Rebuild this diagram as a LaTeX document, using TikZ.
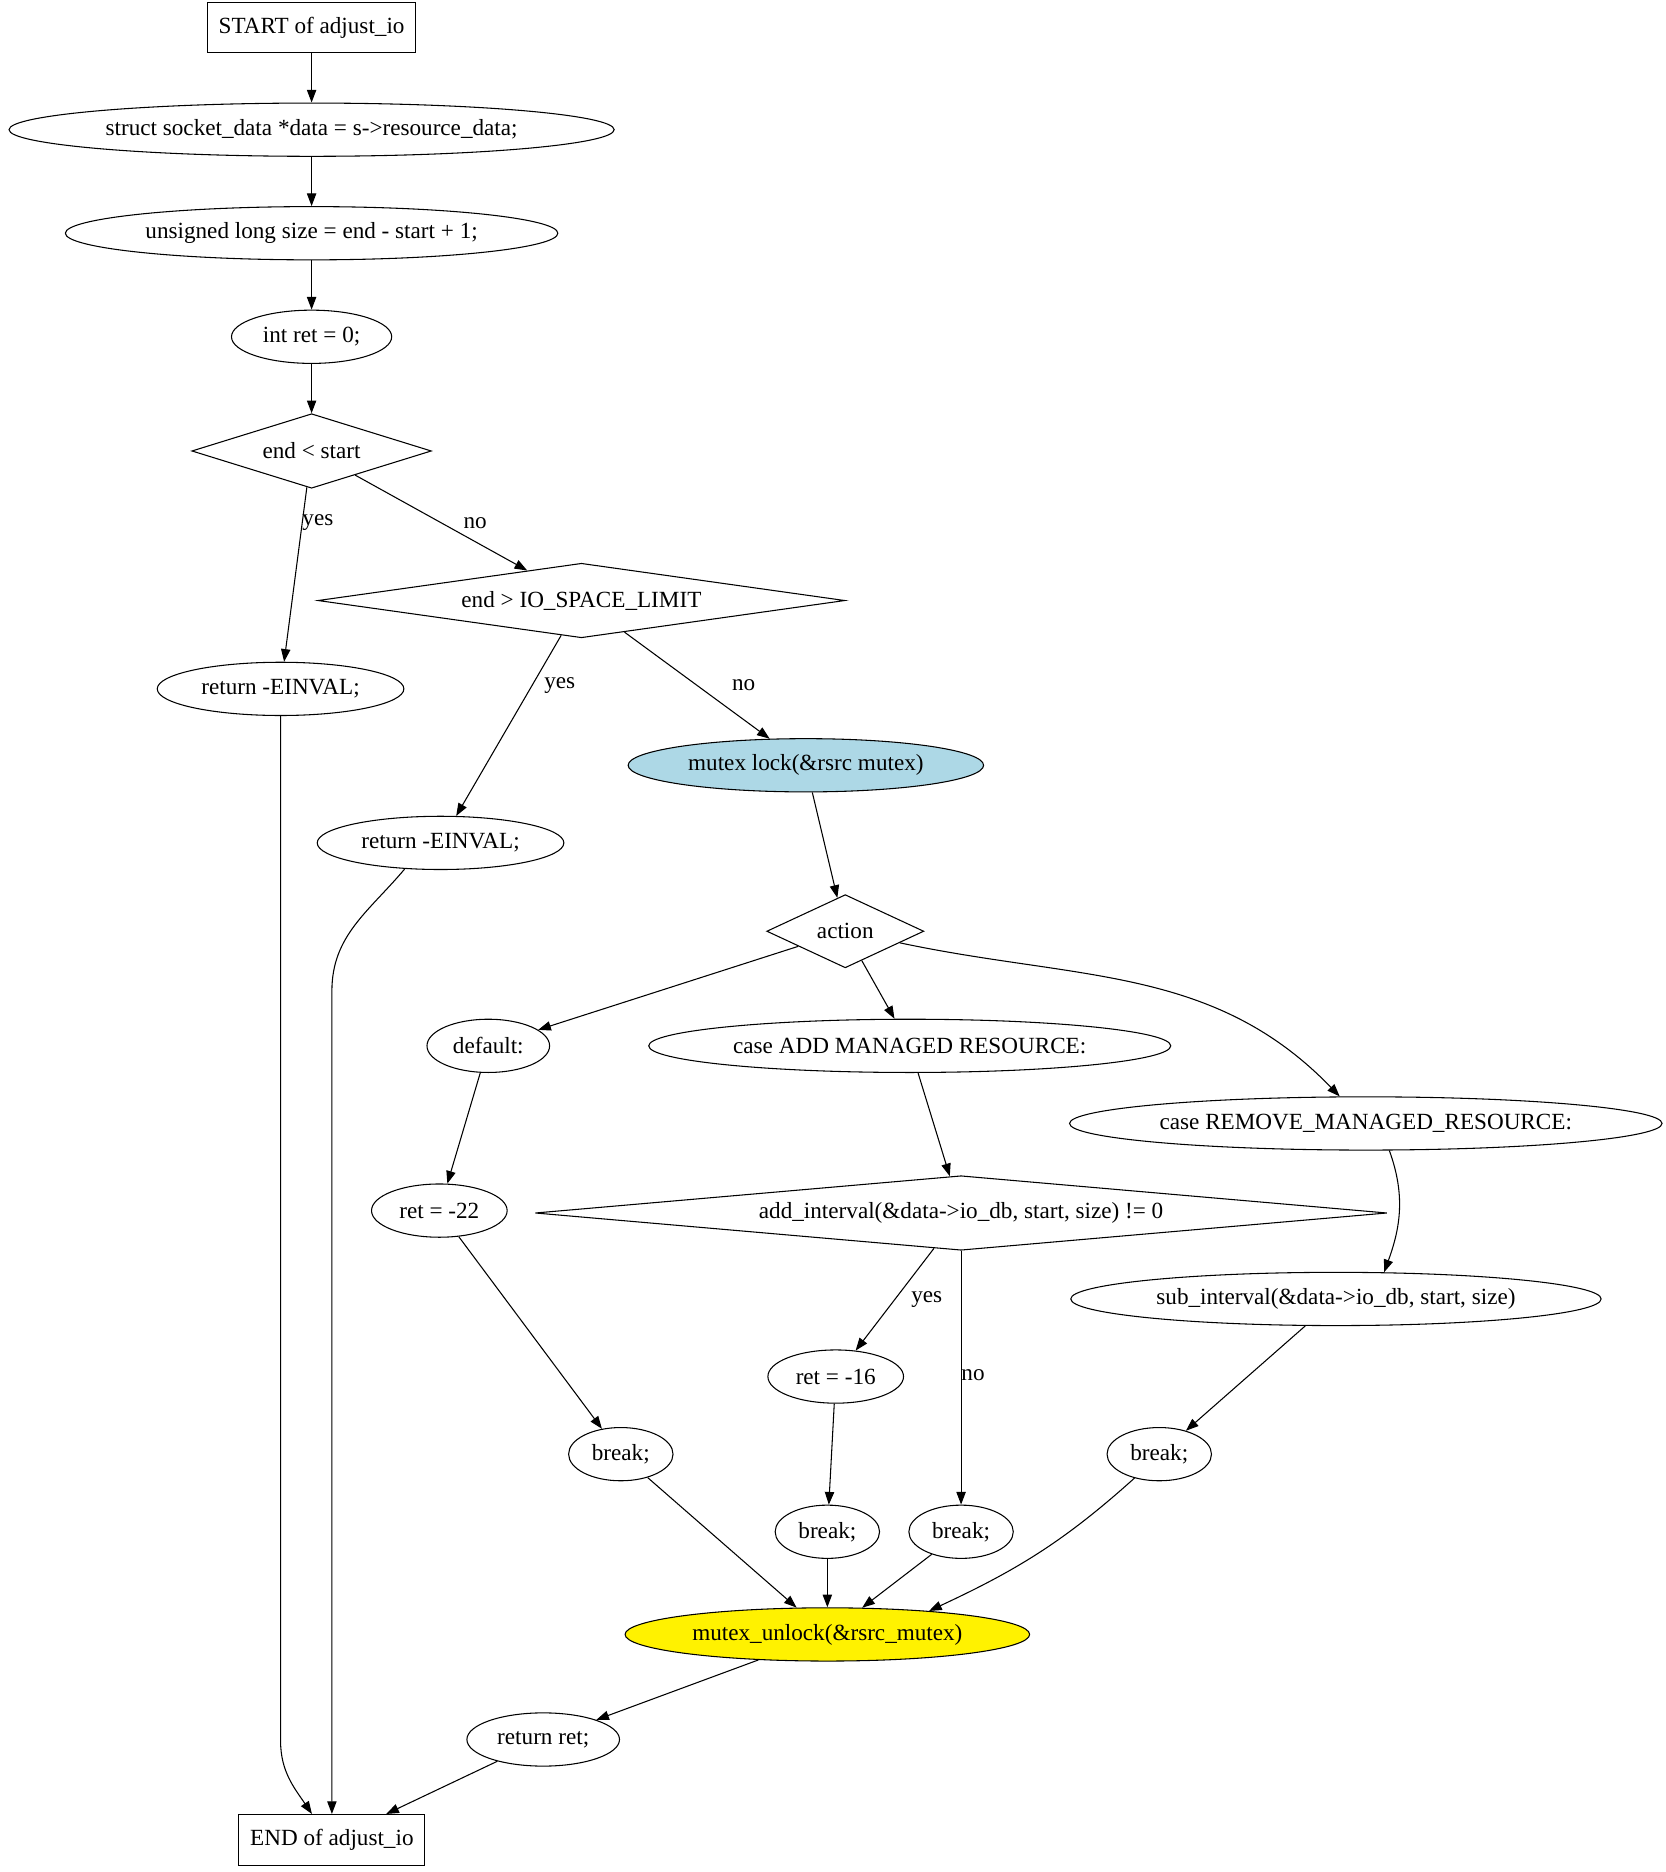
\documentclass[tikz,border=0pt]{standalone}
\usepackage{fontspec}
\setmainfont{Liberation Serif}
\usetikzlibrary{positioning}
\usetikzlibrary{shapes.geometric}
\usetikzlibrary{arrows.meta}
\definecolor{lightblue}{HTML}{ADD8E6}

\begin{document}
\begin{tikzpicture}[x=0.897pt, y=0.897pt, line width=0.8pt, node distance=37pt,
    every node/.style={font=\fontsize{17.4}{20}\selectfont},
    block/.style={rectangle, draw=black, minimum height=38pt, inner xsep=8.5pt},
    stmt/.style={ellipse, draw=black, minimum height=40pt, inner xsep=6pt, inner ysep=3pt},
    cond/.style={diamond, draw=black, inner sep=2pt, minimum height=56pt},
    flow/.style={-{Triangle[length=9.5pt, width=7pt]}},
    lbl/.style={inner sep=1pt}]
            \useasboundingbox (0,0) rectangle (1395,-1568);

            \node[block] (start) at (261,-23) {START of adjust\_io};
            \node[stmt]  (data) [below=of start] {struct socket\_data *data = s->resource\_data;};
            \node[stmt]  (size) [below=of data] {unsigned long size = end - start + 1;};
            \node[stmt]  (ret) [below=of size] {int ret = 0;};
            \node[cond, aspect=3.2, minimum width=180pt] (lt) [below=of ret] {end < start};
            \node[stmt]  (einval1) at (235,-577) {return -EINVAL;};
            \node[cond, aspect=7.07, minimum width=396pt] (gt) at (487,-503) {end > IO\_SPACE\_LIMIT};
            \node[stmt]  (einval2) at (369,-706) {return -EINVAL;};
            \node[stmt, fill=lightblue] (lock) at (675,-641) {mutex lock(\&rsrc mutex)};
            \node[cond, aspect=2.15, minimum width=118pt, minimum height=55pt] (action) at (708,-780) {action};
            \node[stmt]  (dflt) at (409,-876) {default:};
            \node[stmt]  (caseadd) at (762,-876) {case ADD MANAGED RESOURCE:};
            \node[stmt, inner xsep=2.5pt] (caserm) at (1144,-941) {case REMOVE\_MANAGED\_RESOURCE:};
            \node[stmt]  (ret22) at (368,-1014) {ret = -22};
            \node[cond, aspect=11.4, minimum width=640pt] (addint) at (805,-1016) {add\_interval(\&data->io\_db, start, size) != 0};
            \node[stmt]  (subint) at (1119,-1088) {sub\_interval(\&data->io\_db, start, size)};
            \node[stmt]  (ret16) at (700,-1153) {ret = -16};
            \node[stmt]  (brkdflt) at (520,-1218) {break;};
            \node[stmt]  (brkrm) at (971,-1218) {break;};
            \node[stmt]  (brkadd) at (693,-1283) {break;};
            \node[stmt]  (brkok) at (805,-1283) {break;};
            \node[stmt, fill=yellow] (unlock) at (693,-1369) {mutex\_unlock(\&rsrc\_mutex)};
            \node[stmt]  (retret) at (455,-1457) {return ret;};
            \node[block] (finish) at (278,-1541) {END of adjust\_io};

            \coordinate (bend1) at (235,-1458);
            \coordinate (bend2) at (278,-830);

            \draw[flow] (start) -- (data);
            \draw[flow] (data) -- (size);
            \draw[flow] (size) -- (ret);
            \draw[flow] (ret) -- (lt);
            \draw[flow] (lt) -- node[lbl, pos=0.2, xshift=11.7pt] {yes} (einval1);
            \draw[flow] (lt) -- node[lbl, pos=0.6, xshift=12.6pt, yshift=7.2pt] {no} (gt);
            \draw[flow] (gt) -- node[lbl, pos=0.28, xshift=21pt] {yes} (einval2);
            \draw[flow] (gt) -- node[lbl, pos=0.5, xshift=35pt] {no} (lock);
            \draw[flow] (lock) -- (action);
            \draw[flow] (action) -- (dflt);
            \draw[flow] (action) -- (caseadd);
            \draw[flow] (action) to[out=-12, in=134] (caserm);
            \draw[flow] (dflt) -- (ret22);
            \draw[flow] (caseadd) -- (addint);
            \draw[flow] (caserm.-49) to[out=-70, in=70] (subint.29);
            \draw[flow] (addint) -- node[lbl, pos=0.5, xshift=24pt] {yes} (ret16);
            \draw[flow] (addint) -- node[lbl, pos=0.49, xshift=9pt] {no} (brkok);
            \draw[flow] (subint) -- (brkrm);
            \draw[flow] (ret22) -- (brkdflt);
            \draw[flow] (ret16) -- (brkadd);
            \draw[flow] (brkdflt) -- (unlock);
            \draw[flow] (brkadd) -- (unlock);
            \draw[flow] (brkok) -- (unlock);
            \draw[flow] (brkrm.-136) to[out=-138, in=25] (unlock.13);
            \draw[flow] (unlock) -- (retret);
            \draw[flow] (retret) -- (finish);
            \draw[flow] (einval1) -- (bend1) to[out=-90, in=124] ([xshift=-15pt]finish.north);
            \draw[flow] (einval2.-144) to[out=-130, in=90] (bend2) -- (finish);
        \end{tikzpicture}
\end{document}
